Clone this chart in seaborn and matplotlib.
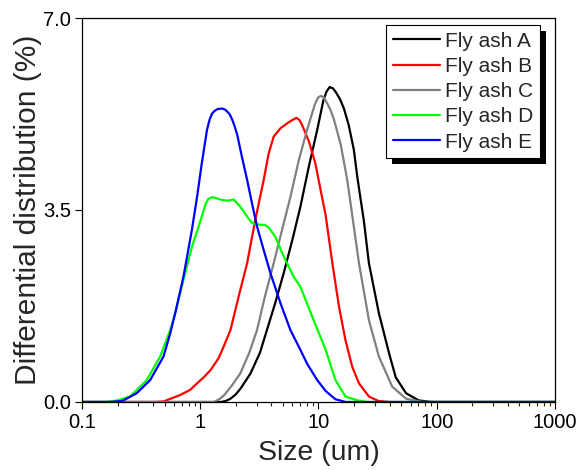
import pandas as pd
import matplotlib
matplotlib.use('Agg')
import matplotlib.pyplot as plt
import matplotlib.ticker as mticker
import seaborn as sns

# particle size distribution data (size in um, differential %)
series_names = ['Fly ash A', 'Fly ash B', 'Fly ash C', 'Fly ash D', 'Fly ash E']
series_colors = ['black', 'red', 'gray', 'lime', 'blue']

size_a = [0.1, 1.5, 1.65, 1.8, 2.0, 2.2, 2.66, 3.2, 3.66, 4.3, 5.08, 6.0, 7.03, 8.3, 9.75,
          11.0, 11.7, 12.4, 13.2, 14.0, 15.2, 16.4, 18.0, 19.9, 21.3, 24.2, 26.7, 32.4, 39.5,
          45, 55, 70, 90, 1000]
dist_a = [0, 0, 0.02, 0.06, 0.14, 0.25, 0.52, 0.9, 1.31, 1.8, 2.35, 2.95, 3.56, 4.3, 4.96,
          5.5, 5.66, 5.74, 5.72, 5.65, 5.52, 5.35, 5.05, 4.6, 4.1, 3.3, 2.53, 1.62, 0.89,
          0.45, 0.16, 0.03, 0, 0]

size_b = [0.1, 0.42, 0.49, 0.68, 0.82, 0.94, 1.07, 1.22, 1.43, 1.57, 1.8, 2.11, 2.49, 2.92,
          3.44, 3.79, 4.18, 4.77, 5.43, 6.0, 6.5, 6.9, 7.3, 8.3, 9.4, 11.5, 13.1, 14.9, 16.9,
          19.3, 22, 26.7, 32, 40, 1000]
dist_b = [0, 0, 0.01, 0.13, 0.22, 0.34, 0.45, 0.58, 0.80, 1.0, 1.31, 1.92, 2.53, 3.32,
          4.05, 4.53, 4.84, 4.99, 5.08, 5.14, 5.18, 5.14, 5.04, 4.75, 4.35, 3.4, 2.53, 1.74, 1.13,
          0.64, 0.34, 0.10, 0.02, 0, 0]

size_c = [0.1, 1.3, 1.45, 1.6, 1.85, 2.18, 2.6, 3.02, 3.5, 4.18, 5.0, 5.79, 6.8, 8.0, 9.3,
          9.9, 10.5, 11.1, 11.8, 12.6, 13.5, 15.4, 17.5, 22, 26.7, 32.4, 42, 55, 75, 1000]
dist_c = [0, 0, 0.05, 0.13, 0.3, 0.52, 0.9, 1.31, 1.9, 2.53, 3.2, 3.74, 4.4, 4.96, 5.42,
          5.55, 5.58, 5.55, 5.45, 5.33, 5.15, 4.7, 4.05, 2.53, 1.49, 0.83, 0.28, 0.06, 0, 0]

size_d = [0.1, 0.16, 0.2, 0.255, 0.353, 0.458, 0.557, 0.614, 0.72, 0.85, 0.97, 1.07, 1.12,
          1.17, 1.24, 1.30, 1.48, 1.68, 1.92, 2.18, 2.49, 2.7, 2.83, 3.22, 3.5, 3.79, 4.32,
          5.08, 6.18, 7.03, 9.1, 11.5, 13.9, 16.9, 21.3, 26, 1000]
dist_d = [0, 0, 0.03, 0.10, 0.40, 0.83, 1.31, 1.62, 2.22, 2.83, 3.2, 3.5, 3.63,
          3.7, 3.73, 3.73, 3.69, 3.67, 3.69, 3.56, 3.38, 3.28, 3.25, 3.23, 3.23, 3.18, 3.01,
          2.65, 2.28, 2.10, 1.49, 0.95, 0.40, 0.10, 0.03, 0, 0]

size_e = [0.1, 0.17, 0.22, 0.29, 0.377, 0.489, 0.557, 0.614, 0.72, 0.85, 0.94, 1.03, 1.14,
          1.2, 1.26, 1.33, 1.4, 1.53, 1.62, 1.7, 1.78, 1.86, 1.95, 2.05, 2.25, 2.49, 2.74,
          3.02, 3.44, 3.92, 4.77, 5.79, 7.03, 8.0, 9.75, 11.5, 13.9, 17, 1000]
dist_e = [0, 0, 0.02, 0.16, 0.40, 0.83, 1.25, 1.62, 2.28, 3.14, 3.74, 4.35, 4.96,
          5.15, 5.26, 5.31, 5.34, 5.35, 5.33, 5.29, 5.24, 5.15, 5.03, 4.88, 4.47, 4.05, 3.62,
          3.2, 2.77, 2.35, 1.80, 1.31, 0.95, 0.70, 0.40, 0.2, 0.05, 0, 0]

x_ticks = [0.1, 1, 10, 100, 1000]
x_tick_labels = ['0.1', '1', '10', '100', '1000']
y_ticks = [0.0, 3.5, 7.0]

# build long table for seaborn
frames = []
for name, xs, ys in zip(series_names,
                        [size_a, size_b, size_c, size_d, size_e],
                        [dist_a, dist_b, dist_c, dist_d, dist_e]):
    frames.append(pd.DataFrame({'Size': xs, 'Dist': ys, 'Sample': name}))
df = pd.concat(frames, ignore_index=True)

sns.set_style('ticks')
plt.rcParams['font.family'] = ['Liberation Sans', 'DejaVu Sans']

fig = plt.figure(figsize=(5.76, 4.70), dpi=100)
ax = fig.add_axes([0.1424, 0.1447, 0.8211, 0.817])

sns.lineplot(data=df, x='Size', y='Dist', hue='Sample', hue_order=series_names,
             palette=dict(zip(series_names, series_colors)), linewidth=1.6,
             estimator=None, sort=True, ax=ax, legend=False)

ax.set_xscale('log')
ax.set_xlim(0.1, 1000)
ax.set_ylim(0, 7.0)
ax.xaxis.set_major_locator(mticker.FixedLocator(x_ticks))
ax.xaxis.set_major_formatter(mticker.FixedFormatter(x_tick_labels))
ax.xaxis.set_minor_locator(mticker.LogLocator(base=10, subs=range(2, 10), numticks=20))
ax.xaxis.set_minor_formatter(mticker.NullFormatter())
ax.set_yticks(y_ticks)
ax.yaxis.set_major_formatter(mticker.FormatStrFormatter('%.1f'))

ax.tick_params(axis='both', which='major', direction='out', length=5, width=0.8,
               labelsize=14.5, colors='black', pad=3)
ax.tick_params(axis='x', which='minor', direction='out', length=3, width=0.8)
for sp in ax.spines.values():
    sp.set_visible(True)
    sp.set_linewidth(0.9)
    sp.set_color('black')

ax.set_xlabel('Size (um)', fontsize=20.5, labelpad=6)
ax.set_ylabel('Differential distribution (%)', fontsize=21.5, labelpad=1)

handles = [plt.Line2D([], [], color=c, linewidth=1.6) for c in series_colors]
leg = ax.legend(handles, series_names, loc='upper right', bbox_to_anchor=(0.968, 0.982),
                borderaxespad=0, fontsize=15, handlelength=2.26, handletextpad=0.25,
                labelspacing=0.3, borderpad=0.32, fancybox=False, framealpha=1,
                edgecolor='black',
                shadow={'ox': 4.3, 'oy': -4.3, 'facecolor': 'black', 'edgecolor': 'none', 'alpha': 1})
leg.get_frame().set_linewidth(0.8)

fig.savefig('out.png', dpi=100)
